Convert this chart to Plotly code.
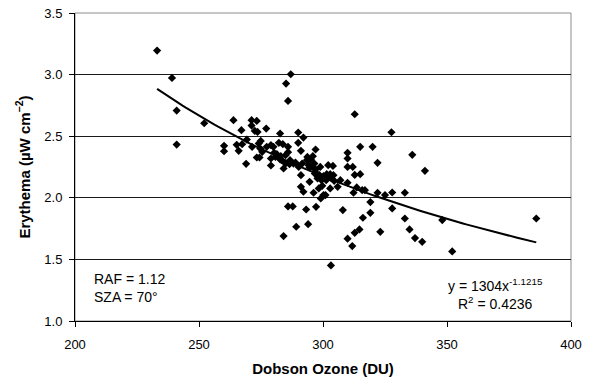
import numpy as np
import plotly.graph_objects as go

# Observed data (Dobson ozone, DU) vs erythema (uW cm-2)
ozone = [233.1, 239.1, 241.0, 241.0, 252.1, 260.1, 260.1, 263.9, 265.2, 266.0,
         267.1, 267.4, 269.0, 269.3, 271.2, 271.2, 271.4, 272.5, 273.3, 273.3,
         273.6, 274.1, 274.4, 274.9, 275.5, 277.1, 279.0, 279.0, 279.0, 280.0,
         280.3, 281.4, 282.2, 282.7, 283.0, 283.3, 283.8, 284.1, 284.1, 284.9,
         285.1, 285.9, 285.9, 285.9, 285.9, 286.7, 287.0, 287.8, 288.1, 289.2,
         290.0, 290.0, 290.2, 291.1, 291.1, 291.1, 292.1, 292.1, 293.2, 293.5,
         294.0, 294.6, 293.7, 294.2, 295.1, 295.9, 296.2, 296.5, 297.0, 297.0,
         297.2, 297.5, 297.8, 298.3, 298.9, 299.1, 299.7, 300.2, 300.2, 301.0,
         301.5, 302.1, 302.9, 302.9, 303.2, 303.4, 304.0, 304.5, 305.9, 307.0,
         308.0, 309.9, 309.9, 309.9, 309.9, 309.9, 311.8, 312.0, 312.3, 312.8,
         312.8, 312.8, 313.6, 314.7, 315.0, 315.0, 315.8, 316.1, 316.9, 319.1,
         319.1, 320.0, 322.0, 322.0, 323.1, 325.0, 327.6, 327.9, 327.9, 333.0,
         333.0, 334.9, 336.0, 337.1, 340.0, 341.1, 348.1, 352.1, 386.0,
         288.9, 291.6, 294.6, 295.7, 296.7, 298.6, 299.4, 301.3, 302.6, 304.2,
         280.8, 282.7, 284.9, 286.5, 277.3, 274.7]
erythema = [3.195, 2.973, 2.708, 2.432, 2.605, 2.422, 2.378, 2.630, 2.430, 2.381,
            2.549, 2.435, 2.276, 2.473, 2.630, 2.586, 2.414, 2.543, 2.624, 2.327,
            2.535, 2.441, 2.327, 2.462, 2.373, 2.562, 2.427, 2.319, 2.262, 2.414,
            2.365, 2.354, 2.446, 2.522, 2.338, 2.305, 2.435, 2.238, 1.689, 2.346,
            2.927, 2.414, 2.370, 2.786, 1.930, 2.305, 3.003, 1.930, 2.278, 1.765,
            2.530, 2.446, 2.251, 2.381, 2.184, 2.089, 2.489, 2.049, 1.905, 2.305,
            1.786, 2.130, 2.332, 2.265, 2.311, 2.338, 2.041, 2.278, 2.392, 2.230,
            1.927, 2.197, 2.157, 2.076, 2.251, 1.995, 2.097, 2.176, 2.022, 2.022,
            2.192, 2.265, 2.076, 2.192, 1.451, 2.157, 2.259, 2.138, 2.089, 2.143,
            1.900, 2.365, 2.319, 2.251, 2.122, 1.668, 1.608, 2.251, 2.041, 2.678,
            2.186, 1.716, 2.084, 1.743, 2.414, 2.192, 2.062, 1.838, 2.062, 1.965,
            1.878, 2.414, 2.284, 2.041, 1.724, 2.022, 2.532, 2.043, 1.914, 2.041,
            1.832, 1.743, 2.349, 1.673, 1.643, 2.219, 1.819, 1.565, 1.832,
            2.286, 2.278, 2.246, 2.251, 2.197, 2.184, 2.143, 2.143, 2.170, 2.184,
            2.332, 2.311, 2.278, 2.273, 2.414, 2.400]

# Power trendline as printed on the chart: y = 1304 x^-1.1215
fit_coef = 1304.0
fit_exp = -1.1215
fit_xmin, fit_xmax = min(ozone), max(ozone)
fit_x = np.linspace(fit_xmin, fit_xmax, 120)
fit_y = fit_coef * fit_x ** fit_exp

x_ticks = [200, 250, 300, 350, 400]
y_ticks = [1.0, 1.5, 2.0, 2.5, 3.0, 3.5]

FONT = "Liberation Sans, Arial, sans-serif"

fig = go.Figure()
fig.add_trace(go.Scatter(
    x=ozone, y=erythema, mode="markers",
    marker=dict(symbol="diamond", size=6.3, color="black", line=dict(width=0)),
    showlegend=False, hoverinfo="skip"))
fig.add_trace(go.Scatter(
    x=fit_x, y=fit_y, mode="lines",
    line=dict(color="black", width=2), showlegend=False, hoverinfo="skip"))

# gray frame on top/right
fig.add_shape(type="rect", xref="paper", yref="paper", x0=0, y0=0, x1=1, y1=1,
              line=dict(color="#8c8c8c", width=1), layer="below")

fig.update_layout(
    width=612, height=383,
    margin=dict(l=75, r=41, t=13, b=62, autoexpand=False),
    paper_bgcolor="white", plot_bgcolor="white",
    font=dict(family=FONT, color="black", size=12),
    xaxis=dict(range=[200, 400], tickvals=x_ticks, ticktext=[str(v) for v in x_ticks],
               showgrid=False, zeroline=False, showline=True, linecolor="black",
               linewidth=1, ticks="outside", ticklen=5, tickcolor="black",
               tickfont=dict(size=13), ticklabelstandoff=6, automargin=False,
               title=dict(text="<b>Dobson Ozone (DU)</b>", font=dict(size=15), standoff=12)),
    yaxis=dict(range=[1.0, 3.5], tickvals=y_ticks, ticktext=[f"{v:.1f}" for v in y_ticks],
               showgrid=True, gridcolor="#1a1a1a", gridwidth=1,
               zeroline=False, showline=True, linecolor="black",
               linewidth=1, ticks="outside", ticklen=5, tickcolor="black",
               tickfont=dict(size=13), ticklabelstandoff=4, automargin=False,
               title=dict(text="<b>Erythema (µW cm<sup>−2</sup>)</b>", font=dict(size=15), standoff=10)),
)

fig.add_annotation(xref="paper", yref="paper", x=(92 - 75) / 496, y=(321 - 288) / 308,
                   xanchor="left", yanchor="middle", align="left", showarrow=False,
                   text="RAF = 1.12<br>SZA = 70°", font=dict(size=14, family=FONT))
fig.add_annotation(xref="paper", yref="paper", x=(495 - 75) / 496, y=(321 - 294) / 308,
                   xanchor="center", yanchor="middle", align="center", showarrow=False,
                   text=f"y = {fit_coef:.0f}x<sup>{fit_exp}</sup><br>R<sup>2</sup> = 0.4236",
                   font=dict(size=14, family=FONT))

fig.write_html("out.html", config={"displayModeBar": False},
               post_script="document.body.style.margin='0';document.body.style.overflow='hidden';")
